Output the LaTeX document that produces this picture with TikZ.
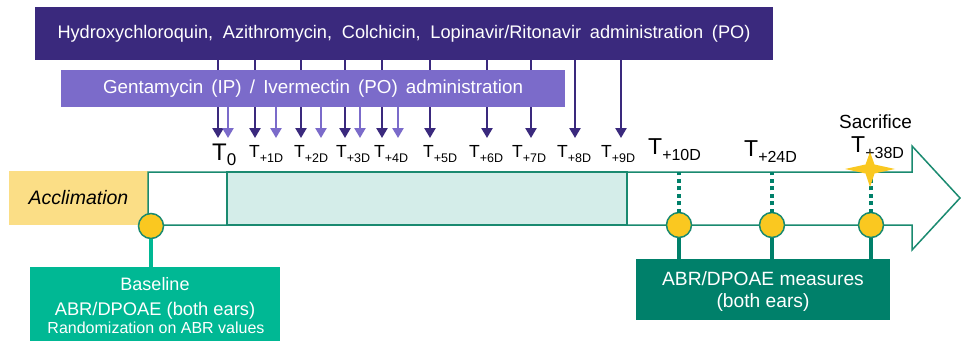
\documentclass[tikz,border=0pt]{standalone}
\usepackage{fontspec}
\setmainfont{Liberation Sans}
\usetikzlibrary{arrows.meta}
\definecolor{dpurple}{RGB}{58,41,125}
\definecolor{lpurple}{RGB}{123,107,202}
\definecolor{tline}{RGB}{26,138,112}
\definecolor{tfill}{RGB}{212,237,233}
\definecolor{ayellow}{RGB}{251,222,134}
\definecolor{cyellow}{RGB}{250,200,32}
\definecolor{bteal}{RGB}{0,184,148}
\definecolor{dteal}{RGB}{0,128,106}
\newcommand{\myfs}[1]{\fontsize{#1}{#1}\selectfont}
\newcommand{\Tsm}[1]{{\myfs{17.5}T}{\myfs{12.5}\raisebox{-5pt}{#1}}}
\newcommand{\Tbg}[1]{{\myfs{23}T}{\myfs{16}\raisebox{-6pt}{#1}}}
\tikzset{
  boxnode/.style={rectangle, inner sep=0pt, outer sep=0pt},
  wtext/.style={text=white, inner sep=0pt},
  darr/.style={draw=dpurple, line width=2.4pt, -{Triangle[width=11pt,length=10pt]}},
  larr/.style={draw=lpurple, line width=2.4pt, -{Triangle[width=11pt,length=10pt]}},
  tlab/.style={anchor=base west, inner sep=0pt},
  circ/.style={circle, draw=tline, fill=cyellow, line width=1.5pt, minimum size=25pt, inner sep=0pt},
  bconn/.style={draw=bteal, line width=3.5pt},
  aconn/.style={draw=dteal, line width=3.5pt},
  dotl/.style={draw=dteal, line width=4pt, dash pattern=on 4pt off 3.5pt},
}
\begin{document}
\begin{tikzpicture}[x=1pt,y=-1pt]
\useasboundingbox[fill=white] (0,0) rectangle (961,340);

% arrow end coordinates
\coordinate (e1) at (218,138);
\coordinate (e2) at (255,138);
\coordinate (e3) at (301,138);
\coordinate (e4) at (345,138);
\coordinate (e5) at (382,138);
\coordinate (e6) at (430,138);
\coordinate (e7) at (487,138);
\coordinate (e8) at (531,138);
\coordinate (e9) at (575,138);
\coordinate (e10) at (621,138);
\coordinate (f1) at (228,138);
\coordinate (f2) at (276,138);
\coordinate (f3) at (321,138);
\coordinate (f4) at (360,138);
\coordinate (f5) at (398,138);

% dark box
\node[boxnode, fill=dpurple, minimum width=738pt, minimum height=53pt, text=white] (dark) at (404,33.5)
  {\myfs{18.2}\makebox[693pt][s]{Hydroxychloroquin, Azithromycin, Colchicin, Lopinavir/Ritonavir administration (PO)}};

% dark arrows
\foreach \i in {1,...,10} {\draw[darr] (dark.south -| e\i) -- (e\i);}

% light box
\node[boxnode, fill=lpurple, minimum width=504pt, minimum height=37pt, text=white] (light) at (313,88.5)
  {\myfs{18.8}\makebox[420pt][s]{Gentamycin (IP) / Ivermectin (PO) administration}};

% light arrows
\foreach \i in {1,...,5} {\draw[larr] (light.south -| f\i) -- (f\i);}

% T labels
\node[tlab] (t0) at (212,160) {{\myfs{24}T}{\myfs{17}\raisebox{-5pt}{0}}};
\node[tlab] (t1) at (249,157) {\Tsm{+1D}};
\node[tlab] (t2) at (294,157) {\Tsm{+2D}};
\node[tlab] (t3) at (336,157) {\Tsm{+3D}};
\node[tlab] (t4) at (374,157) {\Tsm{+4D}};
\node[tlab] (t5) at (423,157) {\Tsm{+5D}};
\node[tlab] (t6) at (469,157) {\Tsm{+6D}};
\node[tlab] (t7) at (512,157) {\Tsm{+7D}};
\node[tlab] (t8) at (557,157) {\Tsm{+8D}};
\node[tlab] (t9) at (601,157) {\Tsm{+9D}};
\node[tlab] (t10) at (648,154) {\Tbg{+10D}};
\node[tlab] (t24) at (744,156) {\Tbg{+24D}};
\node[tlab] (t38) at (851,152) {\Tbg{+38D}};
\node[anchor=base, inner sep=0pt] (sacr) at (875.5,128) {\myfs{19}Sacrifice};

% acclimation
\node[boxnode, fill=ayellow, minimum width=139pt, minimum height=54pt] (accl) at (78.5,198)
  {\myfs{19.5}\itshape Acclimation};

% timeline arrow
\draw[tline, line width=1.5pt, fill=white, line join=miter]
  (148,172) -- (912,172) -- (912,146) -- (960,198) -- (912,250) -- (912,225) -- (148,225) -- cycle;
\node[boxnode, draw=tline, fill=tfill, line width=1.5pt, minimum width=400pt, minimum height=53pt] (treat) at (427,198.5) {};

% bottom boxes
\node[boxnode, fill=bteal, minimum width=250pt, minimum height=76pt, anchor=north] (base) at (155,267) {};
\node[wtext, anchor=base] (bl1) at (155,290) {\myfs{18}Baseline};
\node[wtext, anchor=base] (bl2) at (155,315) {\myfs{18.3}ABR/DPOAE (both ears)};
\node[wtext, anchor=base] (bl3) at (156,333) {\myfs{16}Randomization on ABR values};

\node[boxnode, fill=dteal, minimum width=254pt, minimum height=61pt] (abr) at (763,289.5) {};
\node[wtext, anchor=base] (ab1) at (763,285) {\myfs{19.2}ABR/DPOAE measures};
\node[wtext, anchor=base] (ab2) at (763,307) {\myfs{19.2}(both ears)};

% circles
\node[circ] (c0) at (151,226) {};
\node[circ] (c1) at (679,225) {};
\node[circ] (c2) at (772,225) {};
\node[circ] (c3) at (871,225) {};

% connectors
\draw[bconn] (c0.south) -- (c0.south |- base.north);
\foreach \c in {c1,c2,c3} {
  \draw[aconn] (\c.south) -- (\c.south |- abr.north);
  \draw[dotl] ([yshift=-1pt]\c.north) -- (\c.north |- treat.north);
}

% star
\fill[cyellow] (870,152) -- (874.5,164.5) -- (895,169) -- (874.5,173.5) -- (870,187) -- (865.5,173.5) -- (845,169) -- (865.5,164.5) -- cycle;
\end{tikzpicture}
\end{document}
